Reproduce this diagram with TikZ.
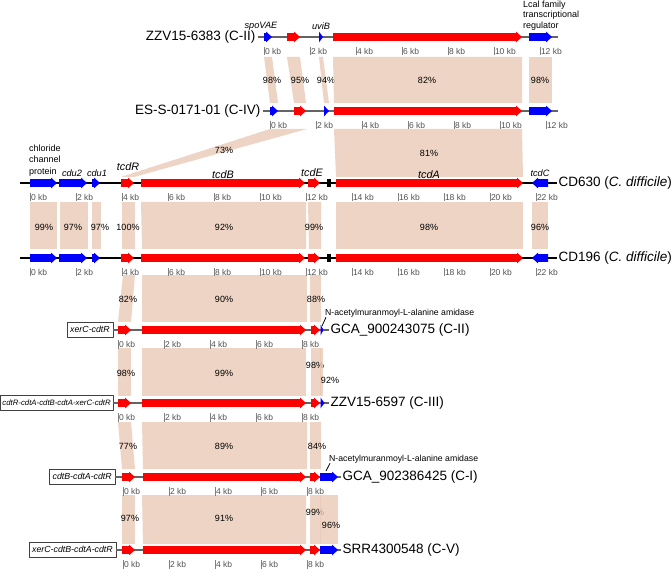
\documentclass[tikz,border=0pt]{standalone}
\usepackage{fontspec}
\setmainfont{Liberation Sans}
\usetikzlibrary{positioning}

% forward gene arrow: y, start, tip, colour
\newcommand{\fgene}[4]{%
  \pgfmathsetmacro\hx{max(#2,#3-6)}%
  \fill[#4] (#2,#1-3.8) -- (\hx,#1-3.8) -- (\hx,#1-5.4) -- (#3,#1) -- (\hx,#1+5.4) -- (\hx,#1+3.8) -- (#2,#1+3.8) -- cycle;}
% reverse gene arrow: y, tip, end, colour
\newcommand{\rgene}[4]{%
  \pgfmathsetmacro\hx{min(#3,#2+6)}%
  \fill[#4] (#3,#1-3.8) -- (\hx,#1-3.8) -- (\hx,#1-5.4) -- (#2,#1) -- (\hx,#1+5.4) -- (\hx,#1+3.8) -- (#3,#1+3.8) -- cycle;}

\begin{document}
\begin{tikzpicture}[x=1pt,y=-1pt,line join=round,
  pct/.style={font=\fontsize{9}{10}\selectfont,inner sep=0pt},
  kbl/.style={anchor=west,font=\fontsize{8.5}{9}\selectfont,text=kbc,inner sep=0.8pt},
  seq/.style={font=\fontsize{13.5}{15}\selectfont,inner sep=1.5pt},
  gn/.style={font=\itshape\fontsize{9.2}{10}\selectfont,inner sep=0pt},
  gnb/.style={font=\itshape\fontsize{10.8}{12}\selectfont,inner sep=0pt},
  tag/.style={draw=black!75,anchor=east,font=\itshape\fontsize{8.8}{10}\selectfont,
    inner xsep=3pt,inner ysep=3.5pt,text height=6.5pt,text depth=1.5pt},
  band/.style={fill=bandc,fill opacity=0.8}]
\definecolor{bandc}{RGB}{232,201,181}
\definecolor{gred}{RGB}{255,0,0}\definecolor{gblue}{RGB}{0,0,255}
\definecolor{tickc}{RGB}{128,128,128}\definecolor{kbc}{RGB}{80,80,80}
\definecolor{linec}{RGB}{100,100,100}
\useasboundingbox (0,0) rectangle (672,569);

% similarity bands: top y / bottom y / top from-to / bottom from-to / % / label
\foreach \yt/\yb/\a/\b/\c/\d/\p/\lx/\ly in {
  57/103/264/272/270/278/98/272/80, 57/103/287/300/294/306/95/300/80,
  57/103/319/323/324/329/94/326/80, 57/103/333/522/334/522/82/427/80,
  57/103/529/552/529/552/98/540/80,
  129/177/270/307/121/134/73/224/150, 129/177/334/522/336/523/81/429/153,
  202/249/30/57/30/57/99/44/227, 202/249/60/88/60/88/97/73/227,
  202/249/92/101/92/101/97/100/227, 202/249/122/135/122/135/100/128/227,
  202/249/141/306/142/306/92/224/227, 202/249/308/321/309/321/99/314/227,
  202/249/336/523/336/523/98/429/227, 202/249/532/548/532/548/96/540/227,
  275/322/123/135/118/131/82/128/299, 275/322/142/307/142/307/90/224/299,
  275/322/310/321/310/321/88/316/299,
  348/396/118/131/118/131/98/126/373, 348/396/142/306/142/306/99/224/373,
  348/396/311/320.5/311/320.5/98/315/365, 348/396/320/323/320/323/92/330/380,
  422/469/118/131/122/135/77/128/446, 422/469/142/307/143/307/89/224/446,
  422/469/310/321/310/321/84/317/446,
  495/544/122/135/122/135/97/130/518, 495/544/142/306/143/306/91/224/518,
  495/544/310/320.5/310/320.5/99/315/512, 495/544/320/338/320/338/96/331/525}{
  \fill[band] (\a,\yt) -- (\b,\yt) -- (\d,\yb) -- (\c,\yb) -- cycle;
  \node[pct] (p\yt-\lx) at (\lx,\ly) {\p\%};}

% sequence names and boxes
\node[seq,anchor=east] (zzva) at (257,37) {ZZV15-6383 (C-II)};
\node[seq,anchor=east] (ess) at (262,111) {ES-S-0171-01 (C-IV)};
\node[seq,anchor=west] (cdsix) at (557,183) {CD630 (\textit{C. difficile})};
\node[seq,anchor=west] (cdone) at (557,258) {CD196 (\textit{C. difficile})};
\node[seq,anchor=west] (gcaa) at (329,330) {GCA\_900243075 (C-II)};
\node[seq,anchor=west] (zzvb) at (329,403) {ZZV15-6597 (C-III)};
\node[seq,anchor=west] (gcab) at (341,477) {GCA\_902386425 (C-I)};
\node[seq,anchor=west] (srr) at (341,550) {SRR4300548 (C-V)};
\node[tag] (taga) at (113,330) {xerC-cdtR};
\node[tag,font=\itshape\fontsize{7.8}{9}\selectfont,inner xsep=2pt] (tagb) at (113,403) {cdtR-cdtA-cdtB-cdtA-xerC-cdtR};
\node[tag] (tagc) at (115,477) {cdtB-cdtA-cdtR};
\node[tag] (tagd) at (116,550) {xerC-cdtB-cdtA-cdtR};

% backbones
\draw[linec,line width=1.1pt] (258,37) -- (558,37);
\draw[linec,line width=1.1pt] (263,111) -- (558,111);
\draw[black,line width=1.1pt] (20,183) -- (cdsix.west);
\draw[black,line width=1.1pt] (20,258) -- (cdone.west);
\foreach \t/\s in {taga/gcaa, tagb/zzvb, tagc/gcab, tagd/srr}{
  \draw[linec,line width=1.1pt] (\t.east) -- (\s.west);}

% kb ticks: track y / 0 kb position / number of steps
\foreach \y/\xs/\n in {37/264/6, 111/270/6, 183/30/11, 258/30/11,
                       330/118/4, 403/118/4, 477/123/4, 550/123/4}{
  \foreach \k in {0,...,\n}{
    \pgfmathtruncatemacro\kb{2*\k}
    \draw[tickc,line width=1pt] (\xs+46*\k,\y+10) -- ++(0,8.5);
    \node[kbl] (k\y-\k) at (\xs+46*\k,\y+14.5) {\kb\ kb};}}

% genes
\foreach \a/\b/\c in {264/272/gblue, 287/300/gred, 319/323/gblue, 333/522/gred, 529/552/gblue}{
  \fgene{37}{\a}{\b}{\c}}
\foreach \a/\b/\c in {270/278/gblue, 294/306/gred, 324/329/gblue, 334/522/gred, 529/552/gblue}{
  \fgene{111}{\a}{\b}{\c}}
\foreach \y in {183,258}{
  \foreach \a/\b/\c in {30/57/gblue, 59/87/gblue, 92/100/gblue, 121/134/gred,
                        141/305/gred, 308/320/gred, 336/523/gred}{
    \fgene{\y}{\a}{\b}{\c}}
  \rgene{\y}{532}{548}{gblue}
  \fill[black] (327,\y-4) rectangle (331,\y+4);}
\foreach \y/\e in {330/323.5, 403/324.5}{
  \foreach \a/\b/\c in {118/131/gred, 142/306/gred, 311/320/gred, 320.5/\e/gblue}{
    \fgene{\y}{\a}{\b}{\c}}}
\foreach \y in {477,550}{
  \foreach \a/\b/\c in {122/135/gred, 143/306/gred, 310/320/gred, 320/338/gblue}{
    \fgene{\y}{\a}{\b}{\c}}}

% gene names
\node[gn] (spovae) at (261,26) {spoVAE};
\node[gn] (uvib) at (321,26) {uviB};
\node[anchor=north west,align=left,inner sep=0pt,font=\fontsize{9}{10.5}\selectfont] (lcal) at (523,0.5)
  {Lcal family\\transcriptional\\regulator};
\node[anchor=north west,align=left,inner sep=0pt,font=\fontsize{9}{11.5}\selectfont] (chlor) at (29,144.5)
  {chloride\\channel\\protein};
\node[gn] (cdub) at (72,173) {cdu2};
\node[gn] (cdua) at (97,173) {cdu1};
\node[gnb] (tcdr) at (128,167) {tcdR};
\node[gnb] (tcdb) at (223,175) {tcdB};
\node[gnb] (tcde) at (312,173) {tcdE};
\node[gnb] (tcda) at (429,175) {tcdA};
\node[gn] (tcdc) at (540,173) {tcdC};
\node[anchor=west,inner sep=0pt,font=\fontsize{8.7}{9}\selectfont] (amia) at (325,313) {N-acetylmuranmoyl-L-alanine amidase};
\node[anchor=west,inner sep=0pt,font=\fontsize{8.7}{9}\selectfont] (amib) at (329,459) {N-acetylmuranmoyl-L-alanine amidase};
\coordinate (ama) at (322,326);
\coordinate (amb) at (326,471);
\draw[black,line width=0.8pt] (ama) -- ([xshift=1pt]amia.south west);
\draw[black,line width=0.8pt] (amb) -- ([xshift=1pt]amib.south west);
\end{tikzpicture}
\end{document}
